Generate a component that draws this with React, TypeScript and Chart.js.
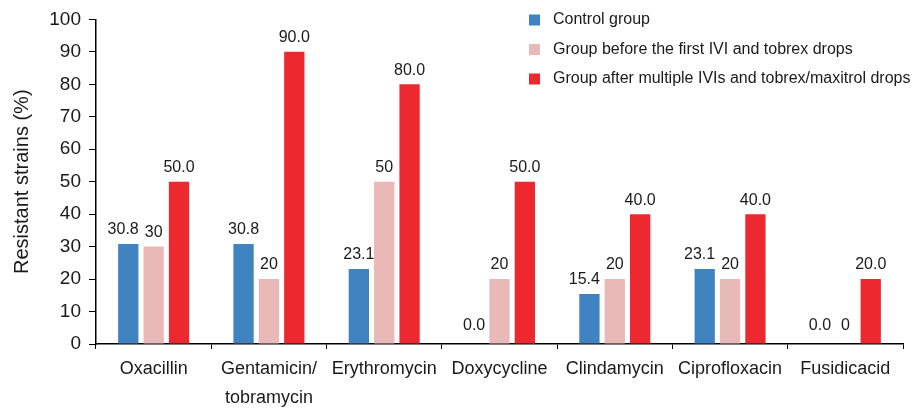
import React, { useEffect, useRef } from "react";
import { Chart, registerables } from "chart.js";

Chart.register(...registerables);

const categories: (string | string[])[] = [
  "Oxacillin",
  ["Gentamicin/", "tobramycin"],
  "Erythromycin",
  "Doxycycline",
  "Clindamycin",
  "Ciprofloxacin",
  "Fusidicacid",
];
const seriesNames = [
  "Control group",
  "Group before the first IVI and tobrex drops",
  "Group after multiple IVIs and tobrex/maxitrol drops",
];
const controlValues = [30.8, 30.8, 23.1, 0.0, 15.4, 23.1, 0.0];
const beforeValues = [30, 20, 50, 20, 20, 20, 0];
const afterValues = [50.0, 90.0, 80.0, 50.0, 40.0, 40.0, 20.0];
const decimals = [1, 0, 1];
const colors = ["#3f84c1", "#e8b9b6", "#ee282f"];
const yTicks = [0, 10, 20, 30, 40, 50, 60, 70, 80, 90, 100];

const FONT = "'Liberation Sans', Arial, sans-serif";

const valueLabelPlugin = {
  id: "valueLabels",
  afterDatasetsDraw(chart: any) {
    const ctx = chart.ctx;
    ctx.save();
    ctx.font = `16px ${FONT}`;
    ctx.fillStyle = "#1a1a1a";
    ctx.textAlign = "center";
    ctx.textBaseline = "bottom";
    const n = chart.data.labels.length;
    const nd = chart.data.datasets.length;
    for (let i = 0; i < n; i++) {
      const items: { txt: string; x: number; y: number; w: number }[] = [];
      for (let di = 0; di < nd; di++) {
        const ds = chart.data.datasets[di];
        const bar = chart.getDatasetMeta(di).data[i];
        const v = ds.data[i];
        const txt = v.toFixed(decimals[di]);
        const gap = v === 0 ? 10 : 6;
        items.push({ txt, x: bar.x, y: bar.y - gap, w: ctx.measureText(txt).width });
      }
      // avoid overlapping neighbouring labels at similar heights
      for (let k = nd - 2; k >= 0; k--) {
        const a = items[k];
        const b = items[k + 1];
        if (Math.abs(a.y - b.y) < 16) {
          const aRight = a.x + a.w / 2;
          const bLeft = b.x - b.w / 2;
          if (aRight > bLeft - 4) a.x -= aRight - (bLeft - 6);
        }
      }
      items.forEach((it) => ctx.fillText(it.txt, it.x, it.y));
    }
    ctx.restore();
  },
};

const legendPlugin = {
  id: "customLegend",
  afterDraw(chart: any) {
    const ctx = chart.ctx;
    ctx.save();
    ctx.font = `16px ${FONT}`;
    ctx.textAlign = "left";
    ctx.textBaseline = "middle";
    const x0 = 529;
    const y0 = 20;
    const step = 29.5;
    chart.data.datasets.forEach((ds: any, i: number) => {
      const cy = y0 + i * step;
      ctx.fillStyle = ds.backgroundColor;
      ctx.fillRect(x0, cy - 5.5, 11, 11);
      ctx.fillStyle = "#1a1a1a";
      ctx.fillText(ds.label, x0 + 24, cy);
    });
    ctx.restore();
  },
};

export default function App() {
  const ref = useRef<HTMLCanvasElement>(null);
  useEffect(() => {
    if (!ref.current) return;
    const values = [controlValues, beforeValues, afterValues];
    const chart = new Chart(ref.current, {
      type: "bar",
      data: {
        labels: categories as any,
        datasets: values.map((vals, i) => ({
          label: seriesNames[i],
          data: vals,
          backgroundColor: colors[i],
          borderWidth: 0,
          categoryPercentage: 0.66,
          barPercentage: 0.8,
        })),
      },
      options: {
        responsive: false,
        animation: false,
        layout: { padding: { top: 16, right: 9, left: 0, bottom: 0 } },
        plugins: {
          legend: { display: false },
          tooltip: { enabled: false },
        },
        scales: {
          x: {
            grid: {
              display: true,
              drawOnChartArea: false,
              drawTicks: true,
              tickLength: 5,
              color: "#000",
              offset: true,
            },
            border: { display: true, color: "#000", width: 1.5 },
            ticks: {
              color: "#1a1a1a",
              font: { family: FONT, size: 18, lineHeight: 1.64 },
              padding: 5,
              maxRotation: 0,
              autoSkip: false,
            },
            afterFit(scale: any) {
              scale.height = 65;
            },
          },
          y: {
            min: 0,
            max: 100,
            afterBuildTicks(scale: any) {
              scale.ticks = yTicks.map((v) => ({ value: v }));
            },
            grid: {
              display: true,
              drawOnChartArea: false,
              drawTicks: true,
              tickLength: 7,
              color: "#000",
            },
            border: { display: true, color: "#000", width: 1.5 },
            ticks: {
              color: "#1a1a1a",
              font: { family: FONT, size: 19 },
              padding: 8,
            },
            title: {
              display: true,
              text: "Resistant strains (%)",
              color: "#1a1a1a",
              font: { family: FONT, size: 20 },
              padding: { top: 10, bottom: 0 },
            },
            afterFit(scale: any) {
              scale.width = 96;
            },
          },
        },
      },
      plugins: [valueLabelPlugin, legendPlugin],
    });
    return () => chart.destroy();
  }, []);
  return (
    <div style={{ position: "absolute", left: 0, top: 0, width: 912, height: 409, background: "#fff" }}>
      <canvas ref={ref} width={912} height={409} />
    </div>
  );
}
